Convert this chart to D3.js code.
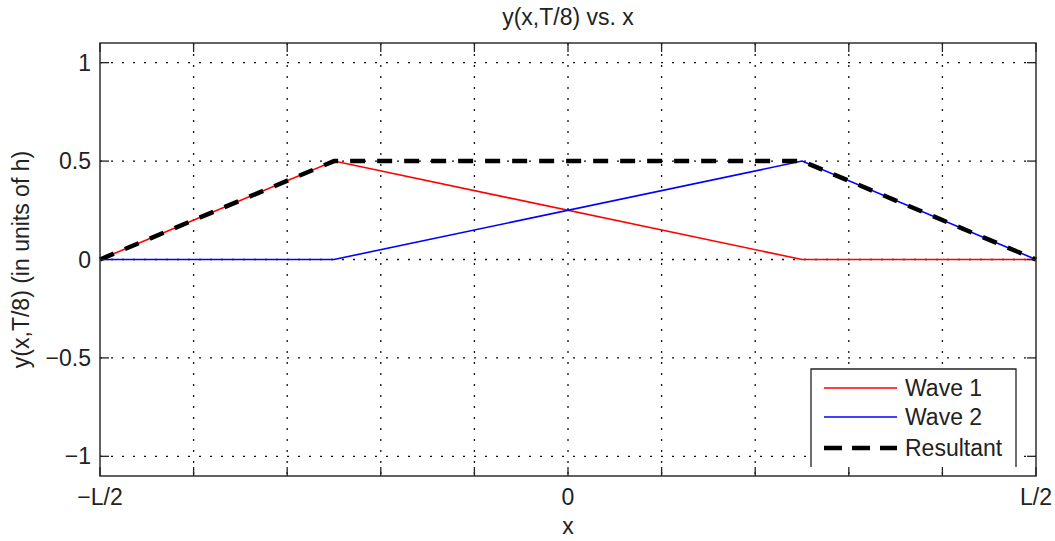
<!DOCTYPE html>
<html>
<head>
<meta charset="utf-8">
<script src="https://cdn.jsdelivr.net/npm/d3@7"></script>
<style>
  body { margin: 0; background: #fff; }
  text { font-family: "Liberation Sans", Arial, sans-serif; fill: #222; }
</style>
</head>
<body>
<svg></svg>
<script>
let width = 1055, height = 541;

// data (x in units of L)
let xs = [-0.5, -0.25, 0.25, 0.5];
let wave1 = [0, 0.5, 0, 0];
let wave2 = [0, 0, 0.5, 0];
let resultant = [0, 0.5, 0.5, 0];

let xTicks = d3.range(-5, 6).map(d => d / 10);
let xTickLabels = {"-0.5": "\u2212L/2", "0": "0", "0.5": "L/2"};
let yTicks = [-1, -0.5, 0, 0.5, 1];
let yTickLabels = ["\u22121", "\u22120.5", "0", "0.5", "1"];
let seriesNames = ["Wave 1", "Wave 2", "Resultant"];

let pLeft = 100, pRight = 1036, pTop = 43, pBottom = 476;

let x = d3.scaleLinear().domain([-0.5, 0.5]).range([pLeft, pRight]);
let y = d3.scaleLinear().domain([-1.1, 1.1]).range([pBottom, pTop]);

let svg = d3.select("svg")
  .attr("width", width)
  .attr("height", height);

// grid
let grid = svg.append("g")
  .attr("stroke", "#111")
  .attr("stroke-width", 1.3)
  .attr("stroke-dasharray", "2,9");

grid.selectAll("line.vx")
  .data(xTicks.slice(1, -1))
  .enter()
  .append("line")
  .attr("x1", d => x(d)).attr("x2", d => x(d))
  .attr("y1", pTop).attr("y2", pBottom);

grid.selectAll("line.hy")
  .data(yTicks)
  .enter()
  .append("line")
  .attr("x1", pLeft).attr("x2", pRight)
  .attr("y1", d => y(d)).attr("y2", d => y(d));

// series
let line = d3.line()
  .x((d, i) => x(xs[i]))
  .y(d => y(d));

svg.append("path")
  .datum(wave1)
  .attr("d", line)
  .attr("fill", "none")
  .attr("stroke", "#ff0000")
  .attr("stroke-width", 1.6);

svg.append("path")
  .datum(wave2)
  .attr("d", line)
  .attr("fill", "none")
  .attr("stroke", "#0000ff")
  .attr("stroke-width", 1.6);

svg.append("path")
  .datum(resultant)
  .attr("d", line)
  .attr("fill", "none")
  .attr("stroke", "#000")
  .attr("stroke-width", 4.5)
  .attr("stroke-dasharray", "15,12");

// ticks (inward, all four sides)
let tickLen = 9;
let ticks = svg.append("g").attr("stroke", "#222").attr("stroke-width", 1.3);
xTicks.forEach(t => {
  ticks.append("line").attr("x1", x(t)).attr("x2", x(t)).attr("y1", pBottom).attr("y2", pBottom - tickLen);
  ticks.append("line").attr("x1", x(t)).attr("x2", x(t)).attr("y1", pTop).attr("y2", pTop + tickLen);
});
yTicks.forEach(t => {
  ticks.append("line").attr("x1", pLeft).attr("x2", pLeft + tickLen).attr("y1", y(t)).attr("y2", y(t));
  ticks.append("line").attr("x1", pRight).attr("x2", pRight - tickLen).attr("y1", y(t)).attr("y2", y(t));
});

// legend
let legX = 811, legY = 369, legW = 205, legH = 98;
svg.append("rect")
  .attr("x", legX).attr("y", legY)
  .attr("width", legW).attr("height", legH)
  .attr("fill", "#fff");
svg.append("path")
  .attr("d", `M${legX},${legY + legH}V${legY}H${legX + legW}V${legY + legH}`)
  .attr("fill", "none")
  .attr("stroke", "#222")
  .attr("stroke-width", 1.3);

let legStyles = [
  {stroke: "#ff0000", w: 1.6, dash: null},
  {stroke: "#0000ff", w: 1.6, dash: null},
  {stroke: "#000", w: 4.5, dash: "18,10"}
];
let rowY = [388, 417, 448];
seriesNames.forEach((name, i) => {
  svg.append("line")
    .attr("x1", 824).attr("x2", 897)
    .attr("y1", rowY[i]).attr("y2", rowY[i])
    .attr("stroke", legStyles[i].stroke)
    .attr("stroke-width", legStyles[i].w)
    .attr("stroke-dasharray", legStyles[i].dash);
  svg.append("text")
    .attr("x", 905).attr("y", rowY[i] + 8)
    .style("font-size", "23px")
    .text(name);
});

// axes box
svg.append("rect")
  .attr("x", pLeft).attr("y", pTop)
  .attr("width", pRight - pLeft).attr("height", pBottom - pTop)
  .attr("fill", "none")
  .attr("stroke", "#222")
  .attr("stroke-width", 1.4);

// tick labels
svg.selectAll("text.xt")
  .data(xTicks.filter(t => xTickLabels[String(t)] !== undefined))
  .enter()
  .append("text")
  .attr("x", d => x(d))
  .attr("y", 505)
  .attr("text-anchor", "middle")
  .style("font-size", "23px")
  .text(d => xTickLabels[String(d)]);

svg.selectAll("text.yt")
  .data(yTicks)
  .enter()
  .append("text")
  .attr("x", 91)
  .attr("y", d => y(d) + 8)
  .attr("text-anchor", "end")
  .style("font-size", "23px")
  .text((d, i) => yTickLabels[i]);

// title and axis labels
svg.append("text")
  .attr("x", (pLeft + pRight) / 2).attr("y", 25)
  .attr("text-anchor", "middle")
  .style("font-size", "23px")
  .text("y(x,T/8) vs. x");

svg.append("text")
  .attr("x", (pLeft + pRight) / 2).attr("y", 534)
  .attr("text-anchor", "middle")
  .style("font-size", "23px")
  .text("x");

svg.append("text")
  .attr("transform", `translate(29,${(pTop + pBottom) / 2}) rotate(-90)`)
  .attr("text-anchor", "middle")
  .style("font-size", "23px")
  .text("y(x,T/8) (in units of h)");
</script>
</body>
</html>
